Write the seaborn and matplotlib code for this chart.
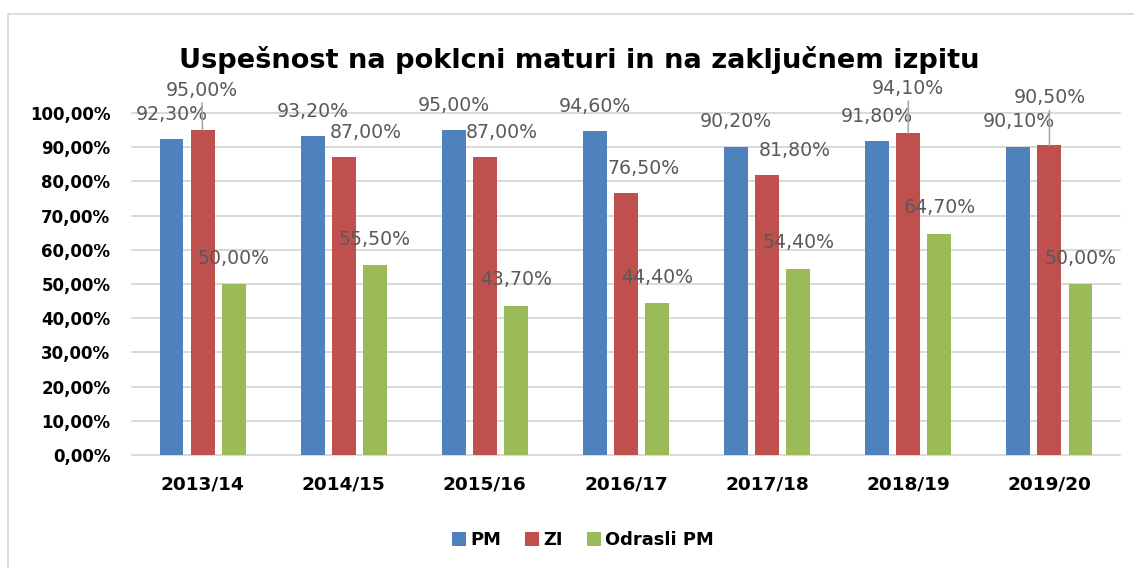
import numpy as np
import pandas as pd
import seaborn as sns
import matplotlib
matplotlib.use("Agg")
import matplotlib.pyplot as plt
from matplotlib.patches import Rectangle, Patch
from matplotlib.ticker import FuncFormatter

# data (percent)
years = ["2013/14", "2014/15", "2015/16", "2016/17", "2017/18", "2018/19", "2019/20"]
series_names = ["PM", "ZI", "Odrasli PM"]
pm = [92.3, 93.2, 95.0, 94.6, 90.2, 91.8, 90.1]
zi = [95.0, 87.0, 87.0, 76.5, 81.8, 94.1, 90.5]
odrasli_pm = [50.0, 55.5, 43.7, 44.4, 54.4, 64.7, 50.0]
yticks = list(range(0, 101, 10))

colors = ["#4F81BD", "#C0504D", "#9BBB59"]

df = pd.DataFrame({
    "year": years * 3,
    "series": [s for s in series_names for _ in years],
    "value": pm + zi + odrasli_pm,
})

# label placement (pixels from bar top), leader line where Excel moved the label
label_offsets = {
    "PM": [(0, 25)] * 7,
    "ZI": [(-1, 40), (22, 25), (17, 25), (18, 25), (28, 25), (0, 45), (0, 48)],
    "Odrasli PM": [(0, 26)] * 7,
}
leaders = {("ZI", 0), ("ZI", 5), ("ZI", 6)}

sns.set_style("white")
plt.rcParams["font.family"] = ["DejaVu Sans"]

fig = plt.figure(figsize=(11.34, 5.68), dpi=100)
ax = fig.add_axes([132 / 1134, 1 - 455 / 568, (1120 - 132) / 1134, (455 - 113) / 568])

sns.barplot(data=df, x="year", y="value", hue="series", palette=colors,
            saturation=1, width=0.66, gap=0.23, ax=ax, legend=False,
            linewidth=0, errorbar=None)

ax.set_ylim(0, 100)
ax.set_xlim(-0.5, 6.5)
ax.set_yticks(yticks)
ax.yaxis.set_major_formatter(FuncFormatter(lambda v, p: f"{v:.2f}%".replace(".", ",")))
ax.yaxis.grid(True, color="#D9D9D9", lw=1.4)
for gl in ax.get_ygridlines():
    gl.set_clip_on(False)
ax.set_axisbelow(True)
for sp in ax.spines.values():
    sp.set_visible(False)
ax.set_xlabel("")
ax.set_ylabel("")
ax.tick_params(axis="y", length=0, pad=15.5, labelsize=12)
ax.tick_params(axis="x", length=0, pad=15, labelsize=13.3)
for t in ax.get_yticklabels() + ax.get_xticklabels():
    t.set_fontweight("bold")
    t.set_color("black")

# data labels
for name, cont in zip(series_names, ax.containers):
    for i, bar in enumerate(cont):
        h = bar.get_height()
        dx, dy = label_offsets[name][i]
        txt = f"{h:.2f}%".replace(".", ",")
        kw = {}
        if (name, i) in leaders:
            kw["arrowprops"] = dict(arrowstyle="-", color="#A6A6A6", lw=1.1,
                                    shrinkA=0, shrinkB=0)
        ax.annotate(txt, (bar.get_x() + bar.get_width() / 2, h),
                    xytext=(dx, dy), textcoords="offset pixels",
                    ha="center", va="center", fontsize=13.6,
                    color="#595959", annotation_clip=False, **kw)

fig.text(579 / 1134, 1 - 68 / 568, "Uspešnost na poklcni maturi in na zaključnem izpitu",
         ha="center", va="baseline", fontsize=19.6, fontweight="bold", color="black")

handles = [Patch(facecolor=c, edgecolor="none") for c in colors]
leg = fig.legend(handles, series_names, loc="center", bbox_to_anchor=(583 / 1134, 1 - 540 / 568),
                 ncol=3, frameon=False, handlelength=0.8, handleheight=0.8,
                 handletextpad=0.25, columnspacing=1.3,
                 prop={"weight": "bold", "size": 12.9})
for t in leg.get_texts():
    t.set_color("black")

# light chart-area border (runs off the right and bottom edge)
fig.patches.append(Rectangle((7.5 / 1134, -0.2), 1.2, 1.2 - 14 / 568,
                             transform=fig.transFigure, fill=False,
                             edgecolor="#D9D9D9", lw=1.3))

fig.savefig("out.png", dpi=100)
